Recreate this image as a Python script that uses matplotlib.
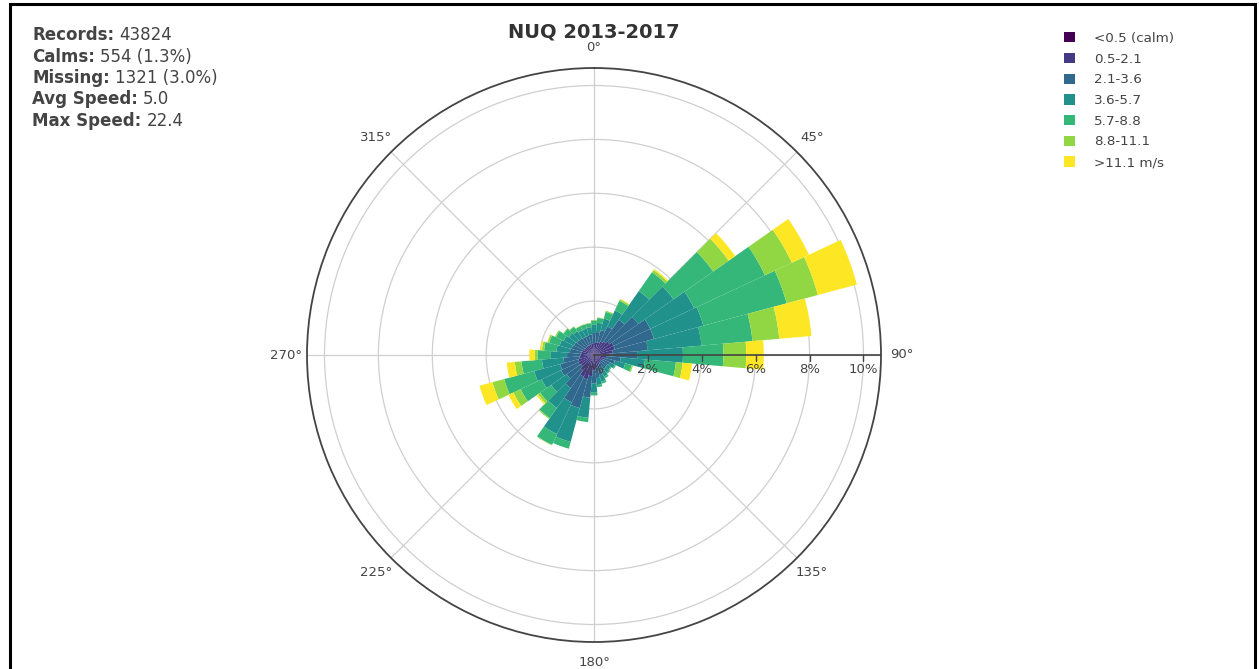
import numpy as np
import matplotlib
matplotlib.use("Agg")
from matplotlib import pyplot as plt
from matplotlib.patches import Rectangle

# wind rose for NUQ, share of hours (%) per 10 degree sector and speed class
directions = np.arange(0, 360, 10)
speed_bins = ['<0.5 (calm)', '0.5-2.1', '2.1-3.6', '3.6-5.7', '5.7-8.8', '8.8-11.1', '>11.1 m/s']
colors = ['#440154', '#443983', '#31688e', '#21918c', '#35b779', '#90d743', '#fde725']

calm = [0.04, 0.04, 0.04, 0.05, 0.05, 0.05, 0.05, 0.05, 0.05, 0.05, 0.04, 0.04,
        0.03, 0.03, 0.03, 0.03, 0.03, 0.03, 0.03, 0.04, 0.04, 0.04, 0.04, 0.04,
        0.04, 0.04, 0.04, 0.04, 0.04, 0.04, 0.04, 0.04, 0.04, 0.04, 0.04, 0.04]
s0_5 = [0.40, 0.42, 0.46, 0.50, 0.55, 0.65, 0.75, 0.75, 0.65, 0.55, 0.41, 0.36,
        0.32, 0.30, 0.32, 0.35, 0.40, 0.45, 0.55, 0.75, 0.90, 0.85, 0.66, 0.55,
        0.60, 0.56, 0.50, 0.46, 0.42, 0.40, 0.38, 0.36, 0.36, 0.36, 0.36, 0.38]
s2_1 = [0.38, 0.40, 0.46, 0.62, 1.00, 1.30, 1.50, 1.50, 1.30, 1.00, 0.55, 0.40,
        0.30, 0.27, 0.28, 0.30, 0.35, 0.38, 0.48, 0.80, 1.10, 1.05, 0.80, 0.65,
        0.70, 0.70, 0.60, 0.50, 0.44, 0.42, 0.40, 0.38, 0.36, 0.34, 0.34, 0.34]
s3_6 = [0.30, 0.34, 0.44, 0.66, 1.30, 1.60, 1.80, 1.90, 2.00, 1.70, 0.90, 0.40,
        0.20, 0.16, 0.17, 0.20, 0.24, 0.26, 0.34, 0.75, 1.30, 1.30, 0.90, 0.70,
        0.80, 1.00, 0.80, 0.60, 0.50, 0.46, 0.42, 0.36, 0.32, 0.28, 0.28, 0.28]
s5_7 = [0.16, 0.18, 0.26, 0.39, 0.85, 1.80, 2.90, 3.20, 1.90, 1.50, 1.15, 0.25,
        0.05, 0.04, 0.05, 0.07, 0.08, 0.08, 0.10, 0.16, 0.26, 0.44, 0.46, 0.50,
        0.86, 1.15, 0.76, 0.50, 0.46, 0.40, 0.32, 0.24, 0.20, 0.16, 0.16, 0.14]
s8_8 = [0.02, 0.02, 0.04, 0.06, 0.10, 0.70, 1.10, 1.20, 1.00, 0.85, 0.25, 0.05,
        0.00, 0.00, 0.00, 0.00, 0.00, 0.00, 0.00, 0.00, 0.00, 0.02, 0.04, 0.10,
        0.30, 0.45, 0.25, 0.10, 0.08, 0.06, 0.04, 0.02, 0.02, 0.02, 0.02, 0.02]
s11_1 = [0.00, 0.00, 0.00, 0.02, 0.05, 0.30, 0.70, 1.50, 1.20, 0.65, 0.35, 0.00,
         0.00, 0.00, 0.00, 0.00, 0.00, 0.00, 0.00, 0.00, 0.00, 0.00, 0.00, 0.06,
         0.20, 0.50, 0.30, 0.20, 0.06, 0.02, 0.00, 0.00, 0.00, 0.00, 0.00, 0.00]
series = [calm, s0_5, s2_1, s3_6, s5_7, s8_8, s11_1]

stats = [('Records:', '43824'), ('Calms:', '554 (1.3%)'), ('Missing:', '1321 (3.0%)'),
         ('Avg Speed:', '5.0'), ('Max Speed:', '22.4')]

txt = '#444444'
W, H = 1259, 669
fig = plt.figure(figsize=(W / 100, H / 100), dpi=100)
plt.rcParams['font.family'] = 'DejaVu Sans'

# polar area: centre (594, 355) px, radius 287 px
cx, cy, R = 594 / W, 1 - 355 / H, 287
ax = fig.add_axes([cx - R / W, cy - R / H, 2 * R / W, 2 * R / H], projection='polar')
ax.set_theta_zero_location('N')
ax.set_theta_direction(-1)
rmax = 10.65
ax.set_ylim(0, rmax)

theta = np.deg2rad(directions)
width = np.deg2rad(10)
bottom = np.zeros(len(directions))
bars = []
for vals, col, lab in zip(series, colors, speed_bins):
    vals = np.array(vals)
    b = ax.bar(theta, vals, width=width, bottom=bottom, color=col, label=lab,
               linewidth=0, zorder=2)
    bars.append(b)
    bottom += vals

# grid
ax.set_rgrids([2, 4, 6, 8, 10], labels=[])
ax.set_thetagrids(np.arange(0, 360, 45), labels=[f'{a}°' for a in range(0, 360, 45)])
ax.grid(color='#cfcfcf', linewidth=0.9, zorder=0)
ax.set_axisbelow(True)
ax.spines['polar'].set_color(txt)
ax.spines['polar'].set_linewidth(1.3)
ax.tick_params(axis='x', colors=txt, labelsize=9.5, pad=4, direction='out', length=4, width=1)

# radial axis along 90 deg
ax.plot([np.pi / 2, np.pi / 2], [0, rmax], color=txt, linewidth=1.2, zorder=5)
ax.plot([np.pi / 2] * 6, [0, 2, 4, 6, 8, 10], linestyle='none', marker=3,
        markersize=4, color=txt, zorder=5)
for r in [0, 2, 4, 6, 8, 10]:
    ax.annotate(f'{r}%', (np.pi / 2, r), xytext=(0, -6), textcoords='offset points',
                ha='center', va='top', fontsize=9.5, color=txt, zorder=6)

# title and summary
fig.text(594 / W, 1 - 32 / H, 'NUQ 2013-2017', ha='center', va='center',
         fontsize=14, fontweight='bold', color='#333333')

renderer = fig.canvas.get_renderer()
y0 = 35
for i, (lab, val) in enumerate(stats):
    y = 1 - (y0 + i * 21.5) / H
    t = fig.text(32 / W, y, lab, ha='left', va='center', fontsize=12,
                 fontweight='bold', color=txt)
    bb = t.get_window_extent(renderer)
    fig.text((bb.x1 + 5) / W, y, val, ha='left', va='center', fontsize=12, color=txt)

fig.legend(handles=[b.patches[0] for b in bars], labels=speed_bins, loc='upper left',
           bbox_to_anchor=(1064 / W, 1 - 32 / H), frameon=False, fontsize=9.7,
           handlelength=0.8, handleheight=0.8, handletextpad=1.45,
           labelspacing=0.57, labelcolor=txt, borderaxespad=0, borderpad=0)

# page frame
fig.patches.append(Rectangle((10 / W, -0.1), 1245 / W, 1.1 - 4 / H, transform=fig.transFigure,
                             fill=False, edgecolor='black', linewidth=2.2, clip_on=False))

fig.savefig('out.png', dpi=100, facecolor='white')
